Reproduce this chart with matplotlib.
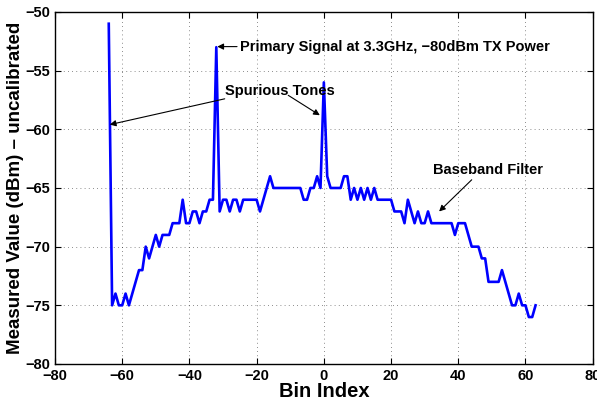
import numpy as np
import matplotlib
matplotlib.use("Agg")
import matplotlib.pyplot as plt

plt.rcParams['font.family'] = ['Liberation Sans', 'DejaVu Sans']
plt.rcParams['font.weight'] = 'bold'

# measured spectrum, FFT bins -64..63
bins = np.arange(-64, 64)
power = [
    -51, -75, -74, -75, -75, -74, -75, -74,   # -64..-57
    -73, -72, -72, -70, -71, -70, -69, -70,   # -56..-49
    -69, -69, -69, -68, -68, -68, -66, -68,   # -48..-41
    -68, -67, -67, -68, -67, -67, -66, -66,   # -40..-33
    -53, -67, -66, -66, -67, -66, -66, -67,   # -32..-25
    -66, -66, -66, -66, -66, -67, -66, -65,   # -24..-17
    -64, -65, -65, -65, -65, -65, -65, -65,   # -16..-9
    -65, -65, -66, -66, -65, -65, -64, -65,   # -8..-1
    -56, -64, -65, -65, -65, -65, -64, -64,   # 0..7
    -66, -65, -66, -65, -66, -65, -66, -65,   # 8..15
    -66, -66, -66, -66, -66, -67, -67, -67,   # 16..23
    -68, -66, -67, -68, -67, -68, -68, -67,   # 24..31
    -68, -68, -68, -68, -68, -68, -68, -69,   # 32..39
    -68, -68, -68, -69, -70, -70, -70, -71,   # 40..47
    -71, -73, -73, -73, -73, -72, -73, -74,   # 48..55
    -75, -75, -74, -75, -75, -76, -76, -75,   # 56..63
]

fig = plt.figure(figsize=(5.97, 4.01), dpi=100)
ax = fig.add_axes([0.0921, 0.0923, 0.9007, 0.8778])
ax.plot(bins, power, color=(0, 0, 1), linewidth=1.9)

ax.set_xlim(-80, 80)
ax.set_ylim(-80, -50)
ax.set_xticks(np.arange(-80, 81, 20))
ax.set_yticks(np.arange(-80, -49, 5))
ax.tick_params(direction='in', top=True, right=True, labelsize=10.5, length=4)
ax.grid(True, linestyle=(0, (1, 4)), color='black', linewidth=0.6, alpha=0.6)
for s in ax.spines.values():
    s.set_linewidth(1.0)

ax.set_xlabel('Bin Index', fontsize=14.5, fontweight='bold')
ax.set_ylabel('Measured Value (dBm) – uncalibrated', fontsize=13.5,
              fontweight='bold')
ax.xaxis.set_label_coords(0.5, -0.05)
ax.yaxis.set_label_coords(-0.057, 0.5)

arrow = dict(arrowstyle='-|>', color='black', lw=0.8,
             shrinkA=0, shrinkB=0, mutation_scale=9)

ax.annotate('Primary Signal at 3.3GHz, −80dBm TX Power', xy=(-31.7, -52.95),
            xytext=(-25, -52.95), fontsize=10.5, va='center', ha='left',
            arrowprops=arrow)

ax.text(-29.5, -56.7, 'Spurious Tones', fontsize=10.5, va='center', ha='left')
ax.annotate('', xy=(-63.7, -59.6), xytext=(-29.5, -57.4), arrowprops=arrow)
ax.annotate('', xy=(-1.2, -58.8), xytext=(-10.6, -57.1), arrowprops=arrow)

ax.text(32.4, -63.5, 'Baseband Filter', fontsize=10.5, va='center', ha='left')
ax.annotate('', xy=(34.3, -67.0), xytext=(44, -64.3), arrowprops=arrow)

fig.savefig('out.png', dpi=100)
